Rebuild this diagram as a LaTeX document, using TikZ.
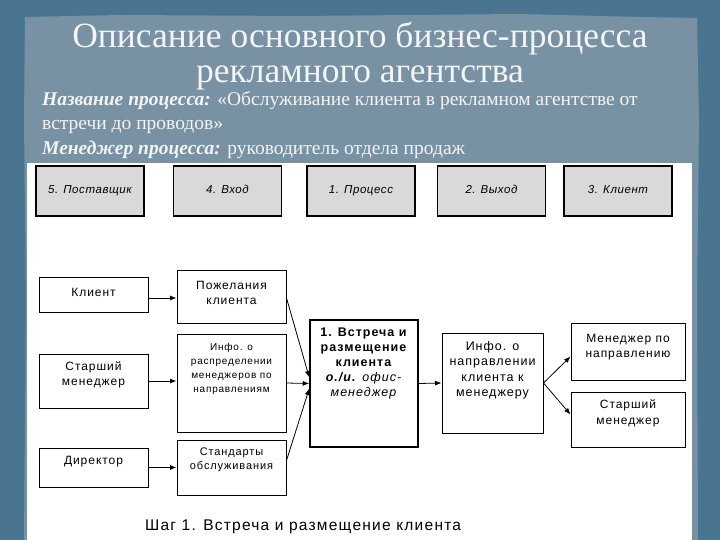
\documentclass[tikz,border=0pt]{standalone}
\usepackage{fontspec}
\setmainfont{Liberation Serif}
\newfontfamily\arial[LetterSpace=8]{Liberation Sans}
\newfontfamily\arialhd[LetterSpace=5]{Liberation Sans}
\usetikzlibrary{arrows.meta}
\definecolor{outerbg}{HTML}{4A7590}
\definecolor{panel}{HTML}{7892A3}
\definecolor{boxgray}{HTML}{D9D9D9}
\definecolor{txtwhite}{HTML}{F2F4F5}
\begin{document}
\begin{tikzpicture}[x=1pt,y=-1pt,
  hdr/.style={draw=black, line width=1.5pt, fill=boxgray, font=\arialhd\itshape\fontsize{11.5}{13}\selectfont, minimum width=108pt, minimum height=50pt, inner sep=0pt, text height=8.5pt, text depth=2.5pt},
  box/.style={draw=black, line width=1pt, fill=white, inner sep=0pt},
  lbl/.style={font=\arial\fontsize{12}{15}\selectfont, align=center, inner sep=0pt},
  slbl/.style={font=\arial\fontsize{10}{14}\selectfont, align=center, inner sep=0pt},
  arr/.style={-{Latex[length=6.5pt,width=5pt]}, line width=0.8pt}]
\useasboundingbox (0,0) rectangle (720,540);
\fill[outerbg] (0,0) rectangle (720,540);
\fill[panel] (25,17) -- (120,15) -- (300,16) -- (520,14) -- (640,17) -- (697,18) -- (699,120) -- (697,300) -- (698,540) -- (24,540) -- (26,300) -- (24,120) -- cycle;
% title
\node[text=txtwhite, font=\fontsize{35.5}{40}\selectfont, anchor=base, inner sep=0pt] (t1) at (360,48) {Описание основного бизнес-процесса};
\node[text=txtwhite, font=\fontsize{35.5}{40}\selectfont, anchor=base, inner sep=0pt] (t2) at (360,83) {рекламного агентства};
% subtitle
\node[text=txtwhite, font=\fontsize{19.5}{22}\selectfont, anchor=base west, inner sep=0pt] (s1) at (42,106) {\textbf{\textit{Название процесса:}} «Обслуживание клиента в рекламном агентстве от};
\node[text=txtwhite, font=\fontsize{19.5}{22}\selectfont, anchor=base west, inner sep=0pt] (s2) at (42,130) {встречи до проводов»};
\node[text=txtwhite, font=\fontsize{19.5}{22}\selectfont, anchor=base west, inner sep=0pt] (s3) at (42,155) {\textbf{\textit{Менеджер процесса:}} руководитель отдела продаж};
% white area
\fill[white] (27,163) rectangle (692,540);
% header boxes
\node[hdr] (h5) at (90,191) {5. Поставщик};
\node[hdr] (h4) at (227.5,191) {4. Вход};
\node[hdr] (h1) at (361,191) {1. Процесс};
\node[hdr] (h2) at (491.5,191) {2. Выход};
\node[hdr] (h3) at (618,191) {3. Клиент};
% boxes
\node[box, minimum width=109pt, minimum height=35pt] (klient) at (93.5,294.5) {};
\node[box, minimum width=109pt, minimum height=53pt] (pozh) at (231.5,296.5) {};
\node[box, minimum width=109pt, minimum height=54pt] (star) at (93.5,381) {};
\node[box, minimum width=109pt, minimum height=98pt] (info1) at (231.5,383) {};
\node[box, minimum width=109pt, minimum height=39pt] (dir) at (93.5,467.5) {};
\node[box, minimum width=109pt, minimum height=55pt] (stand) at (231.5,467.5) {};
\node[box, line width=1.5pt, minimum width=108pt, minimum height=127pt] (proc) at (364,383.5) {};
\node[box, minimum width=101pt, minimum height=100pt] (info2) at (492.5,383) {};
\node[box, minimum width=114pt, minimum height=57pt] (mgr) at (628,351.5) {};
\node[box, minimum width=114pt, minimum height=55pt] (star2) at (628,419.5) {};
% texts
\node[lbl] (klientT) at (93.5,292) {Клиент};
\node[lbl] (pozhT) at (231.5,292.5) {Пожелания\\клиента};
\node[lbl] (starT) at (93.5,375) {Старший\\менеджер};
\node[slbl] (info1T) at (231.5,369) {Инфо. о\\распределении\\менеджеров по\\направлениям};
\node[lbl] (dirT) at (93.5,462) {Директор};
\node[slbl, font=\arial\fontsize{11}{14}\selectfont] (standT) at (231.5,460) {Стандарты\\обслуживания};
\node[lbl, font=\arial\fontsize{12.5}{15}\selectfont] (procT) at (364,363) {\textbf{1. Встреча и}\\\textbf{размещение}\\\textbf{клиента}\\\textbf{\textit{о./и.}} \textit{офис-}\\\textit{менеджер}};
\node[lbl, font=\arial\fontsize{12.5}{15.5}\selectfont] (info2T) at (492.5,370.5) {Инфо. о\\направлении\\клиента к\\менеджеру};
\node[lbl, font=\arial\fontsize{12}{15}\selectfont] (mgrT) at (628,347.5) {Менеджер по\\направлению};
\node[lbl, font=\arial\fontsize{12}{16}\selectfont] (star2T) at (628,413.5) {Старший\\менеджер};
% arrows
\draw[arr] ([yshift=-3.5pt]klient.east) -- ([yshift=-1.5pt]pozh.west);
\draw[arr] (star.east) -- (star.east -| info1.west);
\draw[arr] (dir.east) -- (stand.west);
\draw[arr] ([yshift=-1.5pt]pozh.east) -- ([yshift=6pt]proc.west);
\draw[arr] (info1.east) -- (proc.west);
\draw[arr] ([yshift=7pt]stand.east) -- ([yshift=-5pt]proc.west);
\draw[arr] (proc.east) -- (info2.west);
\draw[arr] (info2.east) -- ([yshift=-5pt]mgr.west);
\draw[arr] (info2.east) -- ([yshift=5pt]star2.west);
% caption
\node[font=\arial\fontsize{15.5}{18}\selectfont, anchor=base west, inner sep=0pt] (cap) at (145,530) {Шаг 1. Встреча и размещение клиента};
\end{tikzpicture}
\end{document}
